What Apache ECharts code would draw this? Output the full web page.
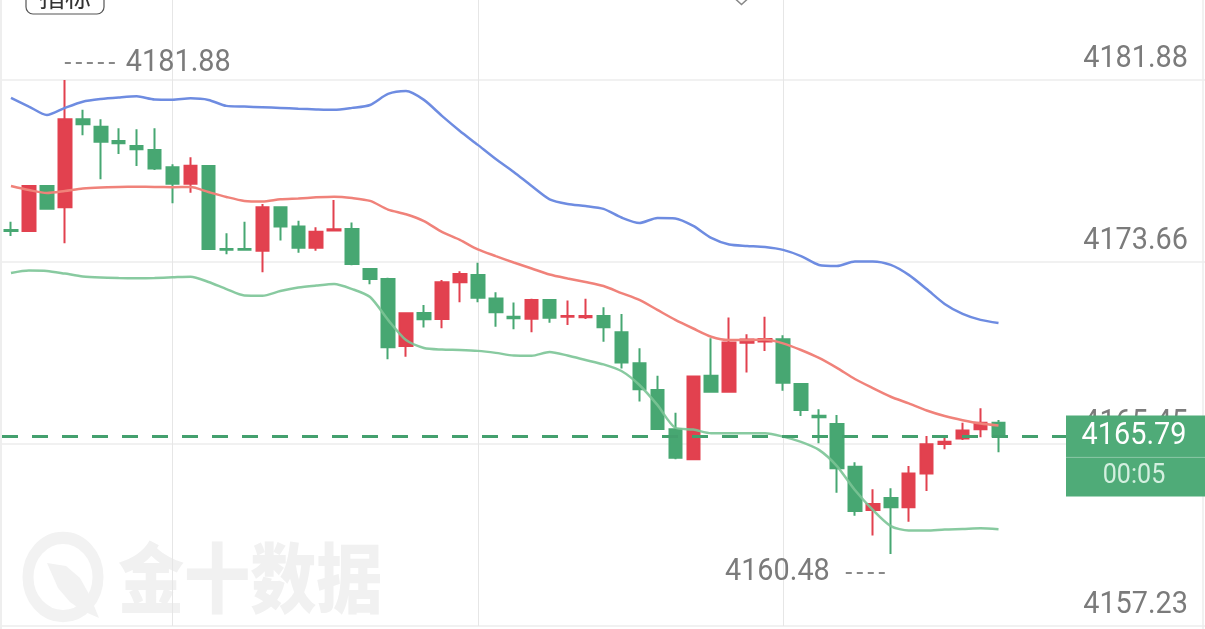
<!DOCTYPE html>
<html><head><meta charset="utf-8">
<script src="https://cdn.jsdelivr.net/npm/echarts@6/dist/echarts.min.js"></script>
<style>html,body{margin:0;padding:0;background:#fff;overflow:hidden}#c{width:1205px;height:629px}</style>
</head><body><div id="c"></div>
<script>
// ---- data ----
const opens  = [4175.11,4175.06,4177.09,4176.13,4180.11,4179.77,4179.13,4178.90,4178.72,4177.94,4177.19,4178.00,4174.25,4174.25,4174.17,4176.13,4175.26,4174.30,4175.08,4175.15,4173.35,4172.90,4169.87,4171.36,4171.09,4172.75,4173.08,4172.02,4171.19,4171.10,4171.95,4171.19,4171.17,4171.23,4170.49,4169.09,4167.88,4166.11,4164.76,4168.53,4167.81,4170.02,4170.07,4170.17,4168.16,4166.72,4166.35,4164.42,4162.47,4163.01,4162.59,4164.12,4165.45,4165.70,4166.11,4166.41];
const closes = [4175.06,4177.09,4176.07,4180.11,4179.88,4179.09,4179.02,4178.75,4177.88,4177.19,4178.01,4174.25,4174.21,4174.21,4176.13,4175.26,4174.31,4175.03,4175.14,4173.57,4172.90,4169.81,4171.35,4171.08,4172.75,4173.12,4172.05,4171.39,4171.12,4171.95,4171.15,4171.23,4171.23,4170.72,4169.12,4167.92,4166.12,4164.83,4168.49,4167.81,4170.03,4170.16,4170.19,4168.21,4166.98,4166.65,4164.35,4162.42,4162.74,4162.59,4164.12,4165.43,4165.55,4166.05,4166.41,4165.79];
const lows   = [4174.84,4175.02,4176.03,4174.51,4179.38,4177.40,4178.54,4178.00,4177.82,4176.31,4176.79,4174.23,4174.01,4174.19,4173.20,4174.63,4174.08,4174.17,4175.08,4173.51,4172.66,4169.27,4169.39,4170.70,4170.67,4171.84,4171.84,4170.74,4170.63,4170.49,4170.92,4170.82,4171.09,4170.06,4168.86,4167.36,4166.10,4164.76,4164.75,4167.79,4167.79,4168.67,4169.65,4167.85,4166.71,4165.48,4163.25,4162.21,4161.31,4160.48,4161.94,4163.32,4165.21,4165.63,4165.75,4165.07];
const highs  = [4175.48,4177.14,4177.12,4181.88,4180.53,4180.11,4179.70,4179.65,4179.70,4178.07,4178.39,4178.02,4174.96,4175.48,4176.28,4176.15,4175.53,4175.23,4176.46,4175.44,4173.37,4172.95,4171.38,4171.72,4172.85,4173.24,4173.63,4172.30,4171.83,4172.00,4171.98,4171.92,4172.00,4171.62,4171.32,4169.77,4168.53,4166.86,4168.50,4170.22,4171.16,4170.40,4171.19,4170.35,4168.18,4167.01,4166.76,4164.62,4163.40,4163.45,4164.45,4165.81,4165.78,4166.41,4167.06,4166.53];
const bollUpper = [4181.07,4180.68,4180.30,4180.62,4180.90,4181.02,4181.09,4181.14,4181.00,4180.99,4181.05,4180.98,4180.71,4180.68,4180.65,4180.62,4180.58,4180.55,4180.53,4180.62,4180.75,4181.25,4181.38,4180.98,4180.26,4179.58,4178.95,4178.31,4177.73,4177.09,4176.49,4176.28,4176.19,4176.06,4175.67,4175.42,4175.65,4175.63,4175.29,4174.75,4174.45,4174.39,4174.34,4174.21,4173.93,4173.53,4173.48,4173.69,4173.69,4173.53,4173.08,4172.44,4171.77,4171.32,4171.05,4170.91];
const bollMid   = [4177.09,4176.91,4176.78,4176.87,4176.98,4177.03,4177.05,4177.06,4177.05,4177.04,4177.05,4176.82,4176.60,4176.42,4176.39,4176.49,4176.53,4176.58,4176.61,4176.55,4176.42,4176.03,4175.82,4175.51,4175.02,4174.66,4174.23,4173.93,4173.64,4173.37,4173.10,4172.92,4172.76,4172.58,4172.26,4171.95,4171.50,4171.05,4170.66,4170.29,4170.14,4170.14,4170.16,4169.99,4169.69,4169.33,4168.88,4168.38,4167.97,4167.58,4167.28,4166.96,4166.71,4166.52,4166.37,4166.28];
const bollLower = [4173.17,4173.28,4173.26,4173.14,4173.01,4172.96,4172.94,4172.93,4172.94,4172.97,4173.00,4172.76,4172.44,4172.15,4172.14,4172.35,4172.51,4172.60,4172.67,4172.44,4172.08,4171.05,4170.14,4169.78,4169.71,4169.69,4169.65,4169.56,4169.44,4169.43,4169.60,4169.44,4169.24,4169.04,4168.74,4168.11,4167.21,4166.18,4166.10,4165.93,4165.93,4165.93,4165.93,4165.78,4165.54,4165.18,4164.45,4163.37,4162.47,4161.74,4161.54,4161.54,4161.59,4161.61,4161.64,4161.60];
const yTickLabels = ['4181.88','4173.66','4165.45','4157.23'];
const yMin = 4157.23, yMax = 4185.49;
const verticalGridCats = ['9','26','43'];
const lastPrice = 4165.79;
const countdown = '00:05';
const slotCount = 67; // visible category slots (56 candles + empty space on the right)
const categories = Array.from({length: slotCount}, (_, i) => String(i));

const UP = '#e2414f', DOWN = '#47a772';
const ohlc = opens.map((o, i) => [o, closes[i], lows[i], highs[i]]);

const chart = echarts.init(document.getElementById('c'), null, {renderer: 'canvas'});
const FONT = 'Roboto';

chart.setOption({
  animation: false,
  backgroundColor: '#ffffff',
  grid: {left: 2, top: 0, width: 1206, height: 626, containLabel: false},
  xAxis: {type: 'category', data: categories, boundaryGap: true,
    axisLine: {show: false}, axisTick: {show: false}, axisLabel: {show: false}, splitLine: {show: false}},
  yAxis: {type: 'value', min: yMin, max: yMax, scale: true,
    axisLine: {show: false}, axisTick: {show: false}, axisLabel: {show: false}, splitLine: {show: false}},
  series: [
    {type: 'line', name: 'grid', data: [], silent: true, z: 1,
      markLine: {silent: true, symbol: 'none', z: 1, animation: false, label: {show: false},
        lineStyle: {color: '#ececec', width: 1.5, type: 'solid'},
        data: [
          ...yTickLabels.map(v => ({yAxis: parseFloat(v)})),
          ...verticalGridCats.map(c => ({xAxis: c, lineStyle: {color: '#e6e6e6', width: 1, type: 'solid'}}))
        ]}},
    {type: 'candlestick', name: 'K', data: ohlc, barWidth: 13, z: 2,
      itemStyle: {color: UP, color0: DOWN, borderColor: UP, borderColor0: DOWN, borderWidth: 2},
      markLine: {silent: true, symbol: 'none', z: 6, animation: false, label: {show: false},
        lineStyle: {color: '#44a06e', width: 3, type: [16, 14]},
        data: [{yAxis: lastPrice}]}},
    {type: 'line', name: 'UP', data: bollUpper, symbol: 'none', smooth: 0.25, z: 3,
      lineStyle: {color: '#6e8ce1', width: 2.5}},
    {type: 'line', name: 'MB', data: bollMid, symbol: 'none', smooth: 0.25, z: 3,
      lineStyle: {color: '#f0827a', width: 2.5}},
    {type: 'line', name: 'DN', data: bollLower, symbol: 'none', smooth: 0.25, z: 3,
      lineStyle: {color: '#7bc496', width: 2.5, opacity: 0.9}}
  ]
});

// ---- overlay texts positioned through the chart's own scales ----
const toPx = (cat, v) => chart.convertToPixel({gridIndex: 0}, [cat, v]);
const g = [];
const W = 1205;
const numText = (x, y, text, align, size, fill, z) => ({
  type: 'text', x: x, y: y, scaleX: 0.93, originX: 0, originY: 0, z: z || 5, silent: true,
  style: {text: text, fontFamily: FONT, fontSize: size, fill: fill, textAlign: align, textVerticalAlign: 'middle'}
});

// watermark
g.push({type: 'circle', shape: {cx: 63, cy: 577, r: 35}, scaleY: 1.12, originX: 63, originY: 577,
  style: {fill: 'none', stroke: '#f2f2f2', lineWidth: 11}, z: 0, silent: true});
g.push({type: 'polygon', shape: {points: [[47,563],[66,566],[80,578],[90,596],[99,618],[83,611],[70,602],[58,588]]},
  style: {fill: '#f2f2f2'}, z: 0, silent: true});
g.push({type: 'text', x: 118, y: 578, scaleX: 0.87, originX: 0, originY: 0, z: 0, silent: true,
  style: {text: '金十数据', fontFamily: 'Noto Sans CJK SC', fontWeight: 900, fontSize: 76,
    fill: '#f1f1f1', textVerticalAlign: 'middle', textAlign: 'left'}});

// border lines
g.push({type: 'line', shape: {x1: 1, y1: 0, x2: 1, y2: 629}, style: {stroke: '#e8e8e8', lineWidth: 1.5}, z: 1, silent: true});
g.push({type: 'line', shape: {x1: 1203, y1: 0, x2: 1203, y2: 629}, style: {stroke: '#ececec', lineWidth: 1.5}, z: 1, silent: true});

// right axis labels
yTickLabels.forEach(t => {
  const p = toPx('0', parseFloat(t));
  g.push(numText(1188, p[1] - 21, t, 'right', 31, '#7b7b7b', 5));
});

// high / low markers
let hi = 0, lo = 0;
highs.forEach((h, i) => { if (h > highs[hi]) hi = i; });
lows.forEach((l, i) => { if (l < lows[lo]) lo = i; });
const ph = toPx(String(hi), highs[hi]);
g.push({type: 'line', shape: {x1: ph[0], y1: ph[1] - 17, x2: ph[0] + 55, y2: ph[1] - 17},
  style: {stroke: '#888', lineWidth: 2, lineDash: [6, 5]}, z: 5, silent: true});
g.push(numText(ph[0] + 61, ph[1] - 17, highs[hi].toFixed(2), 'left', 31, '#7b7b7b', 5));
const pl = toPx(String(lo), lows[lo]);
g.push({type: 'line', shape: {x1: pl[0] - 45, y1: pl[1] + 19, x2: pl[0] - 4, y2: pl[1] + 19},
  style: {stroke: '#888', lineWidth: 2, lineDash: [6, 5]}, z: 5, silent: true});
g.push(numText(pl[0] - 61, pl[1] + 18, lows[lo].toFixed(2), 'right', 31, '#7b7b7b', 5));

// last price box
const pp = toPx(String(closes.length - 1), lastPrice);
const bx = 1066, by = pp[1] - 21;
g.push({type: 'rect', shape: {x: bx, y: by, width: W - bx + 2, height: 81}, style: {fill: '#4fab78'}, z: 20, silent: true});
g.push({type: 'line', shape: {x1: bx, y1: by + 42, x2: W, y2: by + 42}, style: {stroke: 'rgba(255,255,255,0.35)', lineWidth: 1}, z: 21, silent: true});
g.push(numText(1134, by + 21, lastPrice.toFixed(2), 'center', 31, '#ffffff', 21));
g.push(numText(1134, by + 61, countdown, 'center', 27, '#d3efdf', 21));

// top controls (cut off by the frame)
g.push({type: 'rect', shape: {x: 26, y: -20, width: 78, height: 34, r: 7}, style: {fill: '#fff', stroke: '#555', lineWidth: 1.2}, z: 5, silent: true});
g.push({type: 'text', x: 65, y: 10, z: 6, silent: true,
  style: {text: '指标', fontFamily: 'Noto Sans CJK SC', fontSize: 26, fill: '#333', textAlign: 'center', textVerticalAlign: 'bottom'}});
g.push({type: 'polyline', shape: {points: [[730, -6], [741.5, 4.5], [753, -6]]}, style: {stroke: '#888', lineWidth: 1.5, fill: 'none'}, z: 5, silent: true});

chart.setOption({graphic: g});
</script>
</body></html>
